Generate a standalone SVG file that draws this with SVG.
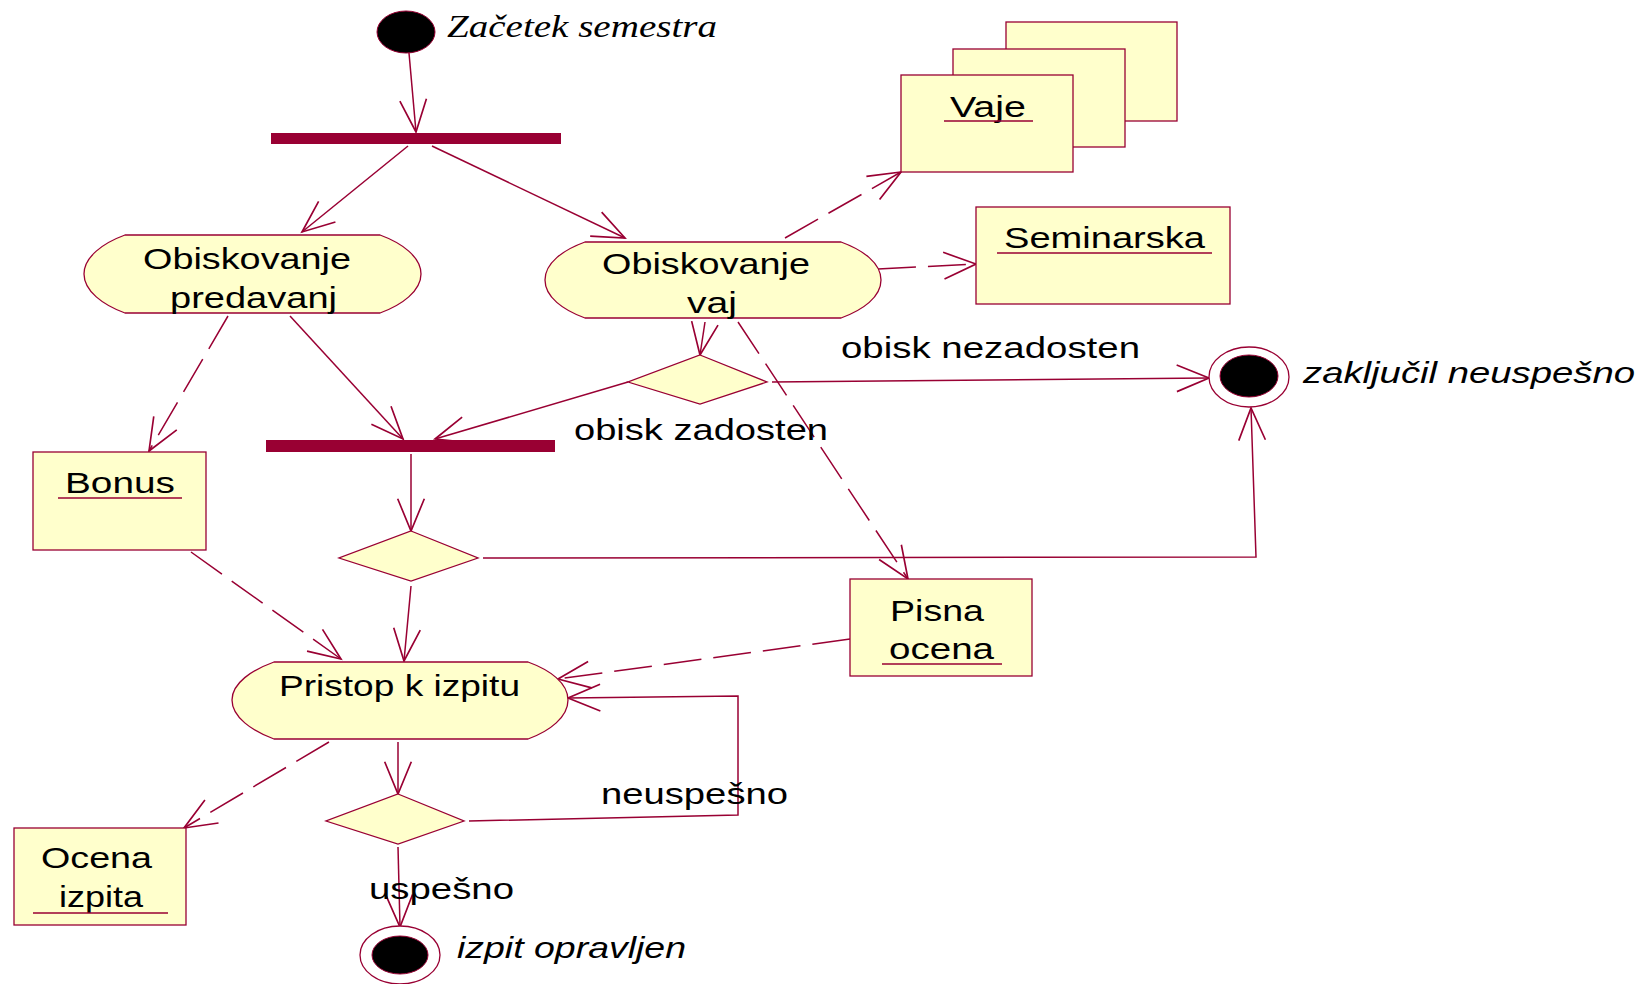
<svg xmlns="http://www.w3.org/2000/svg" width="1648" height="984" viewBox="0 0 1648 984">
<style>
.ln{fill:none;stroke:#990033;stroke-width:1.5}
.ds{stroke-dasharray:38 12}
.box{fill:#FFFFCC;stroke:#990033;stroke-width:1.3}
.bar{fill:#990033}
.ul{stroke:#990033;stroke-width:1.3}
.t{font-family:"Liberation Sans",Arial,sans-serif;font-size:30px;fill:#000}
.it{font-family:"Liberation Sans",Arial,sans-serif;font-size:30px;font-style:italic;fill:#000}
.its{font-family:"Liberation Serif","Times New Roman",serif;font-size:31px;font-style:italic;fill:#000}
</style>
<defs>
<marker id="ah" markerUnits="userSpaceOnUse" markerWidth="40" markerHeight="40" viewBox="-32 -16 36 32" refX="0" refY="0" orient="auto" overflow="visible">
<path d="M-29,-12 L0,0 L-29,12" fill="none" stroke="#990033" stroke-width="1.5"/>
</marker>
</defs>
<rect width="1648" height="984" fill="#fff"/>

<g id="connectors">
<path class="ln" marker-end="url(#ah)" d="M409,53 L416,132"/>
<path class="ln" marker-end="url(#ah)" d="M408,146 L302,232"/>
<path class="ln" marker-end="url(#ah)" d="M432,146 L625,238"/>
<path class="ln ds" marker-end="url(#ah)" d="M228,316 L149,451"/>
<path class="ln" marker-end="url(#ah)" d="M290,316 L403,439"/>
<path class="ln ds" marker-end="url(#ah)" d="M785,238 L901,172"/>
<path class="ln ds" marker-end="url(#ah)" d="M878,269 L976,264"/>
<path class="ln" marker-end="url(#ah)" d="M705,322 L700,355"/>
<path class="ln ds" marker-end="url(#ah)" d="M738,322 L908,579"/>
<path class="ln" marker-end="url(#ah)" d="M628,382 L435,439"/>
<path class="ln" marker-end="url(#ah)" d="M772,382 L1209,378"/>
<path class="ln" marker-end="url(#ah)" d="M411,454 L411,531"/>
<path class="ln" marker-end="url(#ah)" d="M483,558 L1256,557 L1251,408"/>
<path class="ln" marker-end="url(#ah)" d="M411,586 L404,661"/>
<path class="ln ds" marker-end="url(#ah)" d="M191,552 L341,659"/>
<path class="ln ds" marker-end="url(#ah)" d="M850,639 L558,679"/>
<path class="ln ds" marker-end="url(#ah)" d="M329,742 L184,828"/>
<path class="ln" marker-end="url(#ah)" d="M398,742 L398,794"/>
<path class="ln" marker-end="url(#ah)" d="M469,821 L738,815 L738,696 L568,698"/>
<path class="ln" marker-end="url(#ah)" d="M398,847 L400,927"/>
<text class="t" x="841" y="358" textLength="299" lengthAdjust="spacingAndGlyphs">obisk nezadosten</text>
<text class="t" x="574" y="440" textLength="254" lengthAdjust="spacingAndGlyphs">obisk zadosten</text>
<text class="t" x="601" y="804" textLength="187" lengthAdjust="spacingAndGlyphs">neuspešno</text>
<text class="t" x="369" y="899" textLength="145" lengthAdjust="spacingAndGlyphs">uspešno</text>
</g>

<g id="start">
<ellipse cx="406" cy="32" rx="29" ry="21" fill="#000" stroke="#990033" stroke-width="1"/>
<text class="its" x="447" y="37" textLength="270" lengthAdjust="spacingAndGlyphs">Začetek semestra</text>
</g>

<g id="fork1"><rect class="bar" x="271" y="133" width="290" height="11"/></g>
<g id="fork2"><rect class="bar" x="266" y="440" width="289" height="12"/></g>

<g id="predavanja">
<path class="box" d="M125,235 H380 C402,243 421,257 421,274 C421,291 402,305 380,313 H125 C103,305 84,291 84,274 C84,257 103,243 125,235 Z"/>
<text class="t" x="143" y="269" textLength="208" lengthAdjust="spacingAndGlyphs">Obiskovanje</text>
<text class="t" x="170" y="308" textLength="167" lengthAdjust="spacingAndGlyphs">predavanj</text>
</g>

<g id="vaj">
<path class="box" d="M585,242 H841 C863,250 881,263 881,280 C881,297 863,310 841,318 H585 C563,310 545,297 545,280 C545,263 563,250 585,242 Z"/>
<text class="t" x="602" y="274" textLength="208" lengthAdjust="spacingAndGlyphs">Obiskovanje</text>
<text class="t" x="687" y="313" textLength="50" lengthAdjust="spacingAndGlyphs">vaj</text>
</g>

<g id="vaje">
<rect class="box" x="1006" y="22" width="171" height="99"/>
<rect class="box" x="953" y="49" width="172" height="98"/>
<rect class="box" x="901" y="75" width="172" height="97"/>
<text class="t" x="950" y="117" textLength="76" lengthAdjust="spacingAndGlyphs">Vaje</text>
<line class="ul" x1="944" y1="121" x2="1033" y2="121"/>
</g>

<g id="seminarska">
<rect class="box" x="976" y="207" width="254" height="97"/>
<text class="t" x="1004" y="248" textLength="201" lengthAdjust="spacingAndGlyphs">Seminarska</text>
<line class="ul" x1="997" y1="253" x2="1212" y2="253"/>
</g>

<g id="decision1"><path class="box" d="M700,355 L767,382 L700,404 L628,382 Z"/></g>

<g id="end-neuspesno">
<ellipse cx="1249" cy="377" rx="40" ry="30" fill="#fff" stroke="#990033" stroke-width="1.3"/>
<ellipse cx="1249" cy="376" rx="29" ry="21" fill="#000" stroke="#990033" stroke-width="1"/>
<text class="it" x="1303" y="383" textLength="332" lengthAdjust="spacingAndGlyphs">zaključil neuspešno</text>
</g>

<g id="bonus">
<rect class="box" x="33" y="452" width="173" height="98"/>
<text class="t" x="65" y="493" textLength="110" lengthAdjust="spacingAndGlyphs">Bonus</text>
<line class="ul" x1="58" y1="498" x2="182" y2="498"/>
</g>

<g id="decision2"><path class="box" d="M411,531 L478,558 L411,581 L339,558 Z"/></g>

<g id="pisna">
<rect class="box" x="850" y="579" width="182" height="97"/>
<text class="t" x="890" y="621" textLength="94" lengthAdjust="spacingAndGlyphs">Pisna</text>
<text class="t" x="889" y="659" textLength="105" lengthAdjust="spacingAndGlyphs">ocena</text>
<line class="ul" x1="882" y1="664" x2="1002" y2="664"/>
</g>

<g id="pristop">
<path class="box" d="M274,662 H528 C550,670 568,683 568,700 C568,717 550,731 528,739 H274 C252,731 232,717 232,700 C232,683 252,670 274,662 Z"/>
<text class="t" x="279" y="696" textLength="241" lengthAdjust="spacingAndGlyphs">Pristop k izpitu</text>
</g>

<g id="decision3"><path class="box" d="M398,794 L464,821 L398,844 L326,821 Z"/></g>

<g id="ocena">
<rect class="box" x="14" y="828" width="172" height="97"/>
<text class="t" x="41" y="868" textLength="111" lengthAdjust="spacingAndGlyphs">Ocena</text>
<text class="t" x="59" y="907" textLength="84" lengthAdjust="spacingAndGlyphs">izpita</text>
<line class="ul" x1="33" y1="913" x2="168" y2="913"/>
</g>

<g id="end-opravljen">
<ellipse cx="400" cy="955" rx="40" ry="29" fill="#fff" stroke="#990033" stroke-width="1.3"/>
<ellipse cx="400" cy="955" rx="28" ry="19" fill="#000" stroke="#990033" stroke-width="1"/>
<text class="it" x="457" y="958" textLength="229" lengthAdjust="spacingAndGlyphs">izpit opravljen</text>
</g>
</svg>
